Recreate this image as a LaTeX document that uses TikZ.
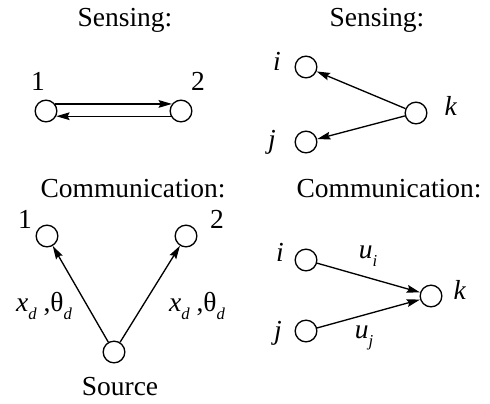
\documentclass[tikz,border=0pt]{standalone}
\usepackage{fontspec}
\setmainfont{Liberation Serif}
\usetikzlibrary{positioning,arrows.meta}
\tikzset{
  agent/.style={
    circle, draw=black, line width=0.8pt, fill=white,
    minimum size=13pt, inner sep=0pt
  },
  arrow/.style={-{Stealth[length=8pt,width=4.6pt,inset=1.2pt]}, line width=0.8pt, draw=black},
  title/.style={font=\fontsize{16.5}{19}\selectfont, inner sep=0pt, anchor=base},
  tag/.style={font=\fontsize{16.5}{19}\selectfont, inner sep=0pt},
}
\newcommand{\lowsub}[1]{\raisebox{-0.3em}{\fontsize{10}{12}\selectfont\textit{#1}}}
\newcommand{\xtheta}{\textit{x}\lowsub{d} ,θ\lowsub{d}}

\begin{document}
\begin{tikzpicture}[x=0.6pt, y=-0.6pt]
  \useasboundingbox (0,0) rectangle (490,403);

  % top left: two robots sensing each other
  \node[title] (senseA) at (125,26) {Sensing:};
  \node[agent] (sa1) at (46,111) {};
  \node[agent] (sa2) at (181,111) {};
  \node[tag] (sa1lbl) at (38,81) {1};
  \node[tag] (sa2lbl) at (198,81) {2};
  \draw[arrow] (sa1.38) -- (sa2.142);
  \draw[arrow] (sa2.-153) -- (sa1.-27);

  % top right: k senses i and j
  \node[title] (senseB) at (377,26) {Sensing:};
  \node[agent] (sbi) at (306,67) {};
  \node[agent] (sbj) at (306,142) {};
  \node[agent] (sbk) at (416,113) {};
  \node[tag] (sbilbl) at (277,61) {\textit{i}};
  \node[tag] (sbjlbl) at (272,142) {\textit{j}};
  \node[tag] (sbklbl) at (451,106) {\textit{k}};
  \draw[arrow] (sbk) -- (sbi);
  \draw[arrow] (sbk) -- (sbj);

  % bottom left: source broadcasts to 1 and 2
  \node[title] (commA) at (133,197) {Communication:};
  \node[agent] (ca1) at (47,236) {};
  \node[agent] (ca2) at (186,236) {};
  \node[agent] (src) at (114,352) {};
  \node[tag] (ca1lbl) at (25,219) {1};
  \node[tag] (ca2lbl) at (217,219) {2};
  \node[title] (srclbl) at (120,395) {Source};
  \node[tag] (msg1) at (44,306) {\xtheta};
  \node[tag] (msg2) at (197,306) {\xtheta};
  \draw[arrow] (src) -- (ca1);
  \draw[arrow] (src) -- (ca2);

  % bottom right: i and j report to k
  \node[title] (commB) at (389,197) {Communication:};
  \node[agent] (cbi) at (306,260) {};
  \node[agent] (cbj) at (306,331) {};
  \node[agent] (cbk) at (431,296) {};
  \node[tag] (cbilbl) at (280,252) {\textit{i}};
  \node[tag] (cbjlbl) at (278,333) {\textit{j}};
  \node[tag] (cbklbl) at (460,290) {\textit{k}};
  \node[tag] (ui) at (368,256) {\textit{u}\lowsub{i}};
  \node[tag] (uj) at (364,338) {\textit{u}\lowsub{j}};
  \draw[arrow] (cbi) -- (cbk.162);
  \draw[arrow] (cbj) -- (cbk.-162);
\end{tikzpicture}
\end{document}
